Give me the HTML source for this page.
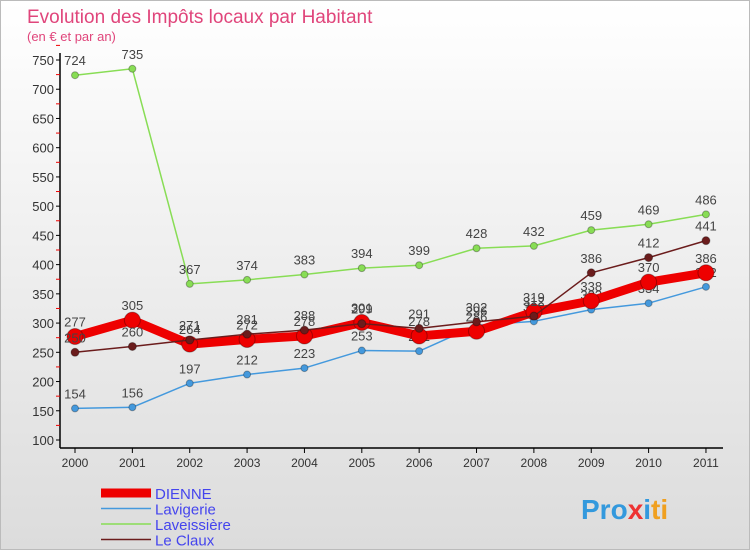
<!DOCTYPE html>
<html><head><meta charset="utf-8"><style>
body{margin:0;width:750px;height:550px;overflow:hidden;font-family:"Liberation Sans",sans-serif}
#wrap{position:relative;width:748px;height:548px;border:1px solid #bbb;background:linear-gradient(#fff,#dcdcdc)}
</style></head><body>
<div id="wrap">
<svg id="chart" width="748" height="548"></svg>
</div>
<script>
const years=["2000","2001","2002","2003","2004","2005","2006","2007","2008","2009","2010","2011"];
const dienne=[277,305,264,272,278,301,278,286,319,338,370,386];
const lavigerie=[154,156,197,212,223,253,252,296,303,323,334,362];
const laveissiere=[724,735,367,374,383,394,399,428,432,459,469,486];
const leclaux=[250,260,271,281,288,299,291,302,312,386,412,441];
const yTicks=[100,150,200,250,300,350,400,450,500,550,600,650,700,750];
const svg=document.getElementById('chart');
const NS='http://www.w3.org/2000/svg';
function X(i){return 74+i*57.36;}
function Y(v){return 439-(v-100)*380/650;}
function mk(t,a,p){const e=document.createElementNS(NS,t);for(const k in a)e.setAttribute(k,a[k]);(p||svg).appendChild(e);return e;}
let t=mk('text',{x:26,y:22,fill:'#e0457b','font-size':19});t.textContent='Evolution des Impôts locaux par Habitant';

t=mk('text',{x:26,y:40,fill:'#e0457b','font-size':13});t.textContent='(en € et par an)';

let ax=mk('line',{x1:59,y1:52,x2:59,y2:447,stroke:'#000','stroke-width':1.5});

ax=mk('line',{x1:59,y1:447,x2:722,y2:447,stroke:'#000','stroke-width':1.5});

yTicks.forEach(v=>{const y=Y(v);
 mk('line',{x1:55,y1:y,x2:59,y2:y,stroke:'#000'});
 mk('line',{x1:55,y1:Y(v+25),x2:59,y2:Y(v+25),stroke:'#e00'});
 const l=mk('text',{x:53,y:y+5,'text-anchor':'end','font-size':13,fill:'#333'});l.textContent=v;
 });
years.forEach((yr,i)=>{mk('line',{x1:X(i),y1:447,x2:X(i),y2:452,stroke:'#000'});
 const l=mk('text',{x:X(i),y:466,'text-anchor':'middle','font-size':12,fill:'#333'});l.textContent=yr;
 });
function series(vals,color,w,r,name,labels){
 const g=mk('g',{});
 mk('polyline',{points:vals.map((v,i)=>X(i)+','+Y(v)).join(' '),fill:'none',stroke:color,'stroke-width':w,'stroke-linejoin':'round'},g);
 vals.forEach((v,i)=>{const c=mk('circle',{cx:X(i),cy:Y(v),r:r,fill:color,stroke:'rgba(0,0,0,0.3)'},g);
  
  const l=mk('text',{x:X(i),y:Y(v)-10,'text-anchor':'middle','font-size':13,fill:'#444'},g);l.textContent=v;
  });
}
series(laveissiere,'#88dd55',1.5,3.5,'laveissiere');
series(lavigerie,'#4499dd',1.5,3.5,'lavigerie');
series(dienne,'#ee0000',9,8,'dienne');
series(leclaux,'#6b1c1c',1.5,4,'le-claux');
const leg=[['DIENNE','#ee0000',9],['Lavigerie','#4499dd',1.5],['Laveissière','#88dd55',1.5],['Le Claux','#6b1c1c',1.5]];
leg.forEach((e,i)=>{const y=492+i*15.5;const g=mk('g',{});
 
 mk('line',{x1:100,y1:y,x2:150,y2:y,stroke:e[1],'stroke-width':e[2]},g);
 const l=mk('text',{x:154,y:y+6,'font-size':15,fill:'#4444ee'},g);l.textContent=e[0];});
const lg=mk('text',{x:580,y:518,'font-size':28,'font-weight':'bold',fill:'#f0a020'});

lg.innerHTML='<tspan fill="#3399dd">Pro</tspan><tspan fill="#ee3333">x</tspan><tspan fill="#3399dd">i</tspan><tspan fill="#f0a020">ti</tspan>';
</script>
</body></html>
